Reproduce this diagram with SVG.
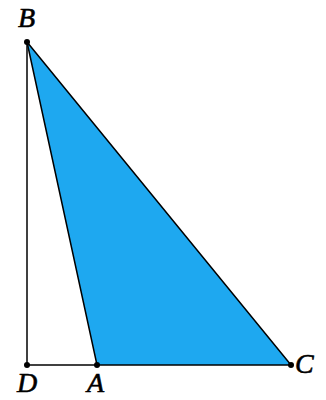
<svg xmlns="http://www.w3.org/2000/svg" width="326" height="400" viewBox="0 0 326 400">
<style>
.lbl{font-family:"Liberation Serif","Times New Roman",serif;font-style:italic;font-size:28px;fill:#000;stroke:#000;stroke-width:0.6}
.ln{stroke:#000;stroke-width:1.5;fill:none}
.pt{fill:#000}
</style>
<rect width="326" height="400" fill="#fff"/>
<g id="triangle">
<polygon points="27,42 97,365 291,365" fill="#1EA8F0" stroke="#000" stroke-width="1.5"/>
</g>
<g id="connectors">
<line class="ln" x1="27" y1="42" x2="27" y2="365"/>
<line class="ln" x1="27" y1="365" x2="97" y2="365"/>
</g>
<g id="B"><circle class="pt" cx="27" cy="42" r="3"/><text class="lbl" x="18" y="27">B</text></g>
<g id="D"><circle class="pt" cx="27" cy="365" r="3"/><text class="lbl" x="17" y="392">D</text></g>
<g id="A"><circle class="pt" cx="97" cy="365" r="3"/><text class="lbl" x="87" y="392">A</text></g>
<g id="C"><circle class="pt" cx="291" cy="365" r="3"/><text class="lbl" x="295" y="373">C</text></g>
</svg>
